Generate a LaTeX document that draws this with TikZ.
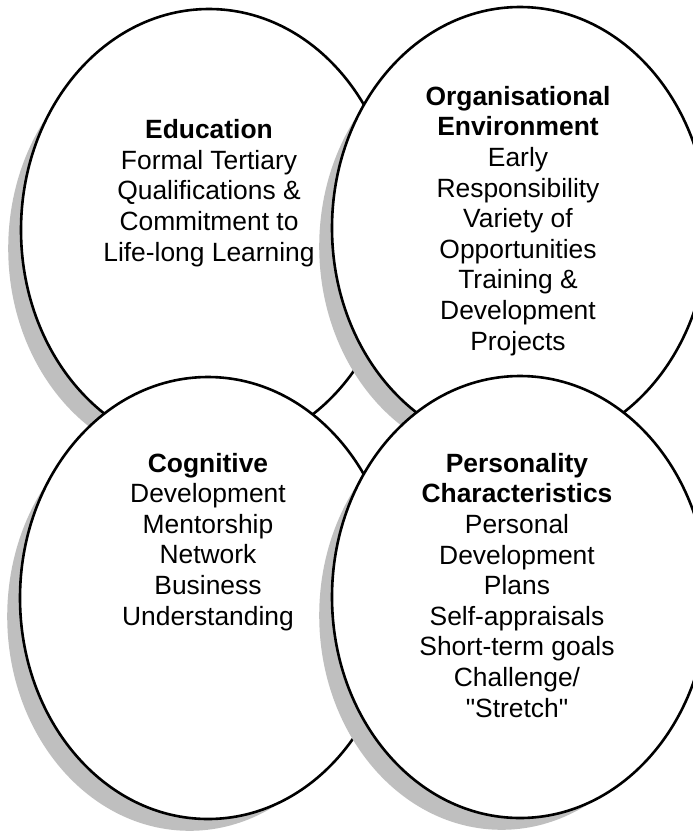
\documentclass[tikz,border=0pt]{standalone}
\usepackage{fontspec}
\newfontfamily\labelfont{Liberation Sans}
\usetikzlibrary{shapes.geometric,shadows}
\begin{document}
\begin{tikzpicture}[x=1pt,y=-1pt,
  blob/.style={ellipse, draw=black, line width=2.6pt, fill=white,
    minimum width=376pt, minimum height=442pt, inner sep=0pt,
    drop shadow={shadow xshift=-19pt, shadow yshift=-19pt,
      shadow scale=0.97, fill=gray!50, draw=none, opacity=1}},
  % a multi-line node sits on the baseline of its last line
  blobtext/.style={align=center, anchor=base, inner sep=0pt,
    font=\labelfont\fontsize{26.4}{30.6}\selectfont}]
\useasboundingbox (0,0) rectangle (693,831);
\clip (0,0) rectangle (693,831);
\fill[white] (0,0) rectangle (693,831);

% four overlapping ellipses, later ones on top
\node[blob] (edu) at (209,230) {};
\node[blob] (org) at (520,228) {};
\node[blob] (cog) at (208,598) {};
\node[blob] (pers) at (520,597) {};

% labels
\node[blobtext] (edutext) at (209,261)
  {\textbf{Education}\\Formal Tertiary\\Qualifications \&\\Commitment to\\Life-long Learning};
\node[blobtext] (orgtext) at (518,350)
  {\textbf{Organisational}\\\textbf{Environment}\\Early\\Responsibility\\Variety of\\Opportunities\\Training \&\\Development\\Projects};
\node[blobtext] (cogtext) at (208,625)
  {\textbf{Cognitive}\\Development\\Mentorship\\Network\\Business\\Understanding};
\node[blobtext] (perstext) at (517,717)
  {\textbf{Personality}\\\textbf{Characteristics}\\Personal\\Development\\Plans\\Self-appraisals\\Short-term goals\\Challenge/\\"Stretch"};
\end{tikzpicture}
\end{document}
